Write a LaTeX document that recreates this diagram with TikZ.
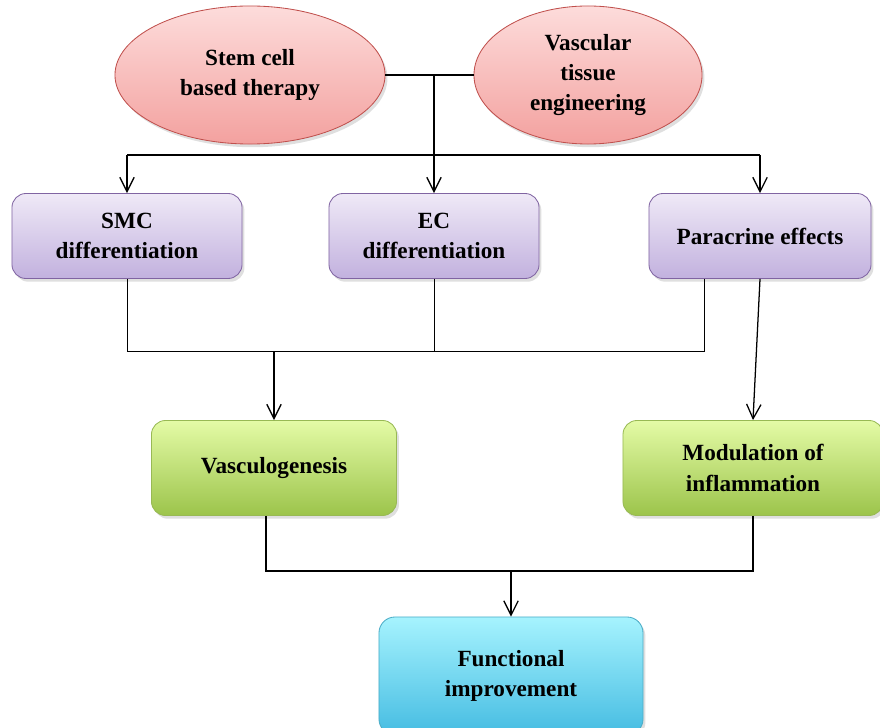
\documentclass[tikz,border=0pt]{standalone}
\usepackage{fontspec}
\setmainfont{Liberation Serif}
\usetikzlibrary{shapes.geometric,shadows,arrows.meta}

\definecolor{pinkTop}{HTML}{FDDCDB}
\definecolor{pinkBot}{HTML}{F3A19F}
\definecolor{pinkLine}{HTML}{C0504D}
\definecolor{lilaTop}{HTML}{EFE9F7}
\definecolor{lilaBot}{HTML}{C2B1DE}
\definecolor{lilaLine}{HTML}{8064A2}
\definecolor{limeTop}{HTML}{E4FBA6}
\definecolor{limeBot}{HTML}{9CC44B}
\definecolor{limeLine}{HTML}{98B954}
\definecolor{skyTop}{HTML}{A6F3FE}
\definecolor{skyBot}{HTML}{45BCE2}
\definecolor{skyLine}{HTML}{4BACC6}

\tikzset{
  source/.style={ellipse, draw=pinkLine, line width=0.6pt, top color=pinkTop, bottom color=pinkBot,
    align=center, minimum height=3.45cm,
    drop shadow={opacity=0.25, shadow xshift=0.06cm, shadow yshift=-0.08cm}},
  mech/.style={rectangle, rounded corners=0.35cm, draw=lilaLine, line width=0.6pt,
    top color=lilaTop, bottom color=lilaBot, align=center, minimum height=2.125cm,
    drop shadow={opacity=0.25, shadow xshift=0.06cm, shadow yshift=-0.08cm}},
  effect/.style={rectangle, rounded corners=0.35cm, draw=limeLine, line width=0.6pt,
    top color=limeTop, bottom color=limeBot, align=center, minimum height=2.375cm,
    drop shadow={opacity=0.25, shadow xshift=0.06cm, shadow yshift=-0.08cm}},
  result/.style={rectangle, rounded corners=0.4cm, draw=skyLine, line width=0.6pt,
    top color=skyTop, bottom color=skyBot, align=center, minimum height=2.95cm,
    drop shadow={opacity=0.25, shadow xshift=0.06cm, shadow yshift=-0.08cm}},
}

\begin{document}
\begin{tikzpicture}[x=0.025cm, y=-0.025cm, line width=0.9pt,
    font=\fontsize{16.5}{21.5}\selectfont\bfseries,
    >={Straight Barb[length=3.6mm,width=3.6mm]}]
    \useasboundingbox (0,0) rectangle (880,728);

    % sources
    \node[source, minimum width=6.75cm] (stem) at (250,75) {Stem cell\\based therapy};
    \node[source, minimum width=5.7cm] (vtis) at (588,75) {Vascular\\tissue\\engineering};

    % mechanisms
    \node[mech, minimum width=5.75cm] (smc) at (127,236) {SMC\\differentiation};
    \node[mech, minimum width=5.25cm] (ec) at (434,236) {EC\\differentiation};
    \node[mech, minimum width=5.55cm] (para) at (760,236) {Paracrine effects};

    % effects
    \node[effect, minimum width=6.125cm] (vgen) at (274,468) {Vasculogenesis};
    \node[effect, minimum width=6.5cm] (modul) at (753,468) {Modulation of\\inflammation};

    % outcome
    \node[result, minimum width=6.6cm] (func) at (511,676) {Functional\\improvement};

    % connectors
    \coordinate (top) at (434,75);
    \coordinate (split) at (434,155);
    \coordinate (join) at (434,351);
    \coordinate (merge) at (511,571);

    \draw (stem.east) -- (vtis.west);
    \draw[->] (top) -- (ec.north);
    \draw (smc.north |- split) -- (para.north |- split);
    \draw[->] (smc.north |- split) -- (smc.north);
    \draw[->] (para.north |- split) -- (para.north);

    \draw[line width=0.6pt] (smc.south) |- (join);
    \draw[line width=0.6pt] (ec.south) -- (join);
    \draw[line width=0.6pt] ([xshift=-1.4cm]para.south) |- (join);
    \draw[->] (vgen.north |- join) -- (vgen.north);
    \draw[->] (para.south) -- (modul.north);

    \draw ([xshift=-0.2cm]vgen.south) |- (merge);
    \draw (modul.south) |- (merge);
    \draw[->] (merge) -- (func.north);
\end{tikzpicture}
\end{document}
